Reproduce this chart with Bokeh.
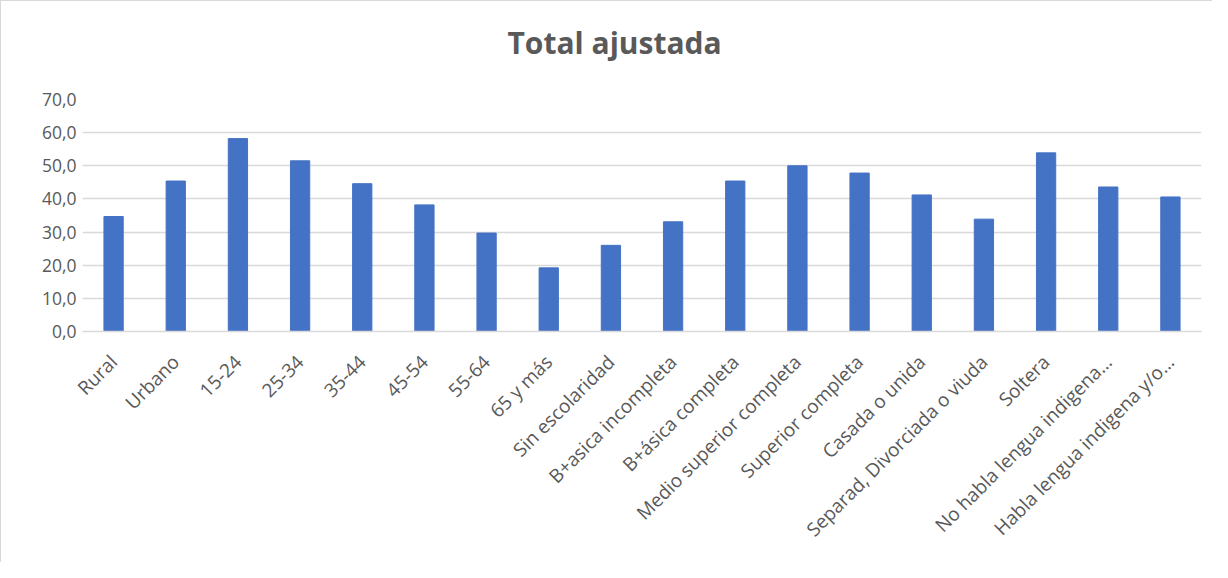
import math
from bokeh.plotting import figure
from bokeh.models import FixedTicker, Range1d, FactorRange, Title
from bokeh.embed import file_html
from bokeh.resources import INLINE

categories = [
    "Rural", "Urbano", "15-24", "25-34", "35-44", "45-54", "55-64", "65 y más",
    "Sin escolaridad", "B+asica incompleta", "B+ásica completa",
    "Medio superior completa", "Superior completa", "Casada o unida",
    "Separad, Divorciada o viuda", "Soltera", "No habla lengua indigena…",
    "Habla lengua indigena y/o…",
]
values = [34.7, 45.4, 58.2, 51.5, 44.6, 38.2, 29.7, 19.2, 26.0, 33.1, 45.4,
          50.0, 47.8, 41.2, 33.9, 53.9, 43.6, 40.6]
y_ticks = [0, 10, 20, 30, 40, 50, 60, 70]
y_tick_labels = ["0,0", "10,0", "20,0", "30,0", "40,0", "50,0", "60,0", "70,0"]
title_text = "Total ajustada"

TEXT = "#595959"
FONT = "Open Sans"

p = figure(
    x_range=FactorRange(factors=categories, range_padding=0),
    y_range=Range1d(0, 70),
    width=1212, height=562,
    output_backend="svg", toolbar_location=None,
    min_border_left=81, min_border_right=12,
    min_border_top=98, min_border_bottom=232,
)
p.styles = {"border-left": "1px solid #d9d9d9", "border-top": "1px solid #d9d9d9"}

p.vbar(x=categories, top=values, width=0.31, fill_color="#4472C4", line_color="#4472C4")

# invisible spacer between the frame and the chart title
p.add_layout(Title(text=" ", text_font_size="1px", standoff=29), "above")

p.title.text = title_text
p.title.align = "left"
p.title.offset = 425
p.title.standoff = 10
p.title.text_font = FONT
p.title.text_font_size = "30px"
p.title.text_font_style = "bold"
p.title.text_color = TEXT

p.outline_line_color = None
p.xgrid.grid_line_color = None
p.ygrid.grid_line_color = "#d9d9d9"
p.ygrid.grid_line_width = 1.3
p.ygrid.ticker = FixedTicker(ticks=y_ticks)

p.yaxis.ticker = FixedTicker(ticks=y_ticks)
p.yaxis.major_label_overrides = dict(zip(y_ticks, y_tick_labels))
p.yaxis.axis_line_color = None
p.yaxis.major_tick_line_color = None
p.yaxis.minor_tick_line_color = None
p.yaxis.major_label_standoff = 0
p.yaxis.major_label_text_font = FONT
p.yaxis.major_label_text_font_size = "17.5px"
p.yaxis.major_label_text_color = TEXT

p.xaxis.axis_line_color = "#d9d9d9"
p.xaxis.axis_line_width = 1.3
p.xaxis.major_tick_line_color = None
p.xaxis.major_label_orientation = math.pi / 4
p.xaxis.major_label_standoff = 21
p.xaxis.major_label_text_font = FONT
p.xaxis.major_label_text_font_size = "19px"
p.xaxis.major_label_text_color = TEXT

open("out.html", "w").write(file_html(p, INLINE))
